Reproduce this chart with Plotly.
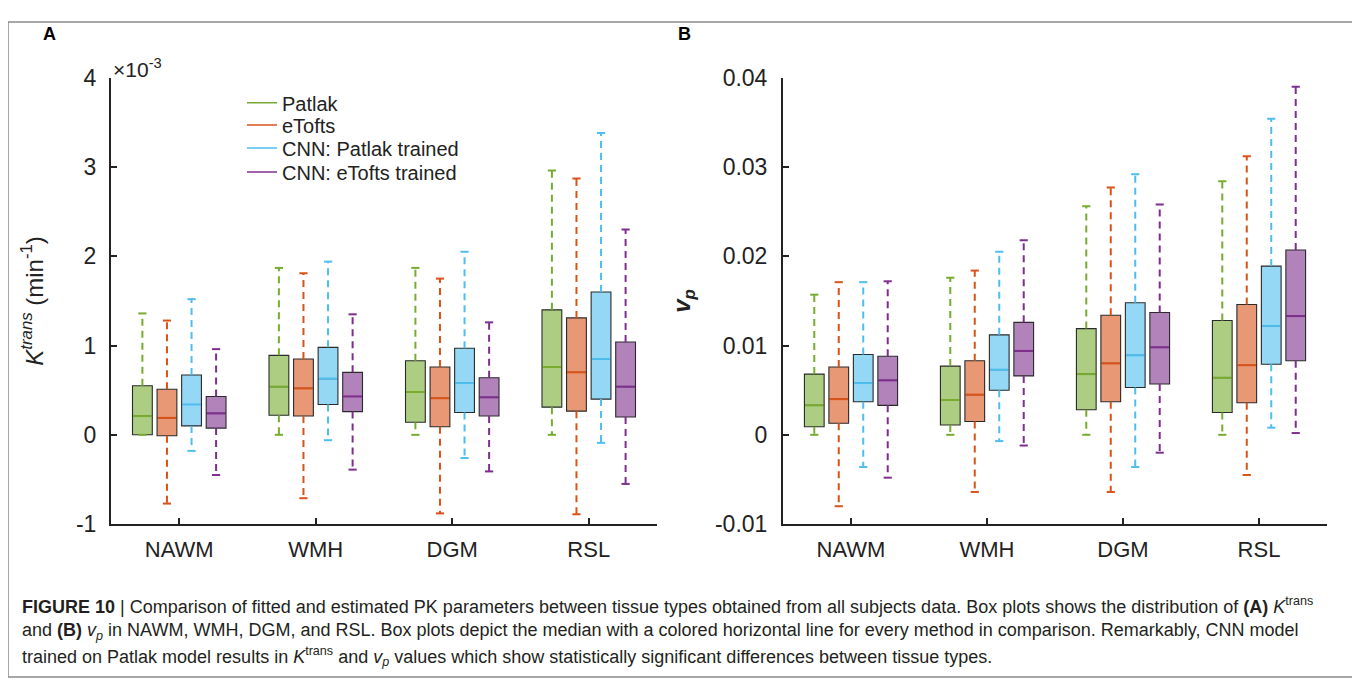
import plotly.graph_objects as go

categories = ["NAWM", "WMH", "DGM", "RSL"]
methods = ["Patlak", "eTofts", "CNN: Patlak trained", "CNN: eTofts trained"]
colors = ["#77AC30", "#D95319", "#4DBEEE", "#7E2F8E"]
fills = ["rgba(119,172,48,0.6)", "rgba(217,83,25,0.6)", "rgba(77,190,238,0.6)", "rgba(126,47,142,0.6)"]

# Panel A: K^trans (x 10^-3 min^-1); rows = methods, columns = categories
ktrans_lower = [[0.0, 0.0, 0.0, 0.0],
                [-0.77, -0.71, -0.88, -0.89],
                [-0.18, -0.06, -0.26, -0.09],
                [-0.45, -0.39, -0.41, -0.55]]
ktrans_q1 = [[0.0, 0.22, 0.14, 0.31],
             [-0.01, 0.21, 0.09, 0.265],
             [0.10, 0.34, 0.25, 0.40],
             [0.075, 0.26, 0.21, 0.20]]
ktrans_median = [[0.21, 0.54, 0.48, 0.76],
                 [0.19, 0.52, 0.41, 0.70],
                 [0.34, 0.63, 0.58, 0.85],
                 [0.24, 0.43, 0.42, 0.54]]
ktrans_q3 = [[0.55, 0.89, 0.83, 1.40],
             [0.51, 0.85, 0.76, 1.31],
             [0.67, 0.98, 0.97, 1.60],
             [0.43, 0.70, 0.64, 1.04]]
ktrans_upper = [[1.36, 1.87, 1.87, 2.96],
                [1.28, 1.81, 1.75, 2.87],
                [1.52, 1.94, 2.05, 3.38],
                [0.96, 1.35, 1.26, 2.30]]

# Panel B: v_p
vp_lower = [[0.0, 0.0, 0.0, 0.0],
            [-0.0080, -0.0064, -0.0064, -0.0045],
            [-0.0036, -0.0007, -0.0036, 0.0008],
            [-0.0048, -0.0012, -0.0020, 0.0002]]
vp_q1 = [[0.0009, 0.0011, 0.0028, 0.0025],
         [0.0013, 0.0015, 0.0037, 0.0036],
         [0.0037, 0.0050, 0.0053, 0.0079],
         [0.0033, 0.0066, 0.0057, 0.0083]]
vp_median = [[0.0033, 0.0039, 0.0068, 0.0064],
             [0.0040, 0.0045, 0.0080, 0.0078],
             [0.0058, 0.0073, 0.0089, 0.0122],
             [0.0061, 0.0094, 0.0098, 0.0133]]
vp_q3 = [[0.0068, 0.0077, 0.0119, 0.0128],
         [0.0076, 0.0083, 0.0134, 0.0146],
         [0.0090, 0.0112, 0.0148, 0.0189],
         [0.0088, 0.0126, 0.0137, 0.0207]]
vp_upper = [[0.0157, 0.0176, 0.0256, 0.0284],
            [0.0171, 0.0184, 0.0277, 0.0312],
            [0.0171, 0.0205, 0.0292, 0.0354],
            [0.0172, 0.0218, 0.0258, 0.0390]]

ktrans_ticks = [-1, 0, 1, 2, 3, 4]
ktrans_ticktext = ["-1", "0", "1", "2", "3", "4"]
vp_ticks = [-0.01, 0, 0.01, 0.02, 0.03, 0.04]
vp_ticktext = ["-0.01", "0", "0.01", "0.02", "0.03", "0.04"]

W, H = 1360, 683
offsets = [-0.27, -0.09, 0.09, 0.27]
box_w = 0.145
cap_half = 0.03
TXT = "#222222"
FONT = "Liberation Sans, Arial, Helvetica, sans-serif"
legend_names = ["legend", "legend2", "legend3", "legend4"]
legend_rows = [85, 108, 132, 157]


def px_x(p):
    return p / W


def px_y(p):
    return 1 - p / H


fig = go.Figure()


def add_panel(lower, q1, med, q3, upper, xa, ya, show_legend):
    pos0 = list(range(1, len(categories) + 1))
    for m in range(len(methods)):
        xs = [p + offsets[m] for p in pos0]
        fig.add_trace(go.Box(
            x=xs, q1=q1[m], median=med[m], q3=q3[m],
            lowerfence=q1[m], upperfence=q3[m],
            width=box_w, fillcolor=fills[m],
            line=dict(color="#2a2a2a", width=1.1), whiskerwidth=0,
            xaxis=xa, yaxis=ya, showlegend=False, name=methods[m],
            hoverinfo="skip"))
        # dashed whiskers
        wx, wy = [], []
        for i, x in enumerate(xs):
            wx += [x, x, None, x, x, None]
            wy += [q3[m][i], upper[m][i], None, q1[m][i], lower[m][i], None]
        fig.add_trace(go.Scatter(x=wx, y=wy, mode="lines", xaxis=xa, yaxis=ya,
                                 line=dict(color=colors[m], width=2, dash="7px,5px"),
                                 showlegend=False, hoverinfo="skip"))
        # caps and medians
        cx, cy, mx, my = [], [], [], []
        for i, x in enumerate(xs):
            cx += [x - cap_half, x + cap_half, None, x - cap_half, x + cap_half, None]
            cy += [upper[m][i], upper[m][i], None, lower[m][i], lower[m][i], None]
            mx += [x - box_w / 2 + 0.004, x + box_w / 2 - 0.004, None]
            my += [med[m][i], med[m][i], None]
        fig.add_trace(go.Scatter(x=cx, y=cy, mode="lines", xaxis=xa, yaxis=ya,
                                 line=dict(color=colors[m], width=2),
                                 showlegend=False, hoverinfo="skip"))
        fig.add_trace(go.Scatter(x=mx, y=my, mode="lines", xaxis=xa, yaxis=ya,
                                 line=dict(color=colors[m], width=2),
                                 showlegend=False, hoverinfo="skip"))
        if show_legend:
            fig.add_trace(go.Scatter(x=[None], y=[None], mode="lines", xaxis=xa, yaxis=ya,
                                     line=dict(color=colors[m], width=1.5),
                                     name=methods[m], showlegend=True,
                                     legend=legend_names[m]))


add_panel(ktrans_lower, ktrans_q1, ktrans_median, ktrans_q3, ktrans_upper, "x", "y", True)
add_panel(vp_lower, vp_q1, vp_median, vp_q3, vp_upper, "x2", "y2", False)

y_dom = [px_y(523), px_y(59)]
common_x = dict(range=[0.5, 4.5], tickvals=[1, 2, 3, 4], ticktext=categories,
                showline=True, linewidth=2, linecolor=TXT, ticks="inside",
                ticklen=6, tickwidth=2, tickcolor=TXT, showgrid=False, zeroline=False,
                tickfont=dict(size=22, color=TXT, family=FONT), ticklabelstandoff=5)
common_y = dict(showline=True, linewidth=2, linecolor=TXT, ticks="inside",
                ticklen=6, tickwidth=2, tickcolor=TXT, showgrid=False, zeroline=False,
                tickfont=dict(size=23, color=TXT, family=FONT))

legend_layout = {}
for name, row in zip(legend_names, legend_rows):
    legend_layout[name] = dict(x=px_x(234), y=px_y(row), xanchor="left", yanchor="middle",
                               font=dict(size=20, color=TXT, family=FONT),
                               bgcolor="rgba(0,0,0,0)", itemwidth=30)

fig.update_layout(
    width=W, height=H, margin=dict(l=0, r=0, t=0, b=0),
    paper_bgcolor="white", plot_bgcolor="white", boxmode="overlay",
    font=dict(family=FONT, color=TXT),
    xaxis=dict(domain=[px_x(103), px_x(649)], anchor="y", **common_x),
    xaxis2=dict(domain=[px_x(775), px_x(1319)], anchor="y2", **common_x),
    yaxis=dict(domain=y_dom, anchor="x", range=[-1, 4], tickvals=ktrans_ticks,
               ticktext=ktrans_ticktext, ticklabelstandoff=8,
               title=dict(text="<i>K</i><sup><i>trans</i></sup> (min<sup>-1</sup>)",
                          font=dict(size=24, color=TXT, family=FONT), standoff=26),
               **common_y),
    yaxis2=dict(domain=y_dom, anchor="x2", range=[-0.01, 0.04], tickvals=vp_ticks,
                ticktext=vp_ticktext, ticklabelstandoff=9,
                title=dict(text="<b><i>v<sub>p</sub></i></b>",
                           font=dict(size=24, color=TXT, family=FONT), standoff=18),
                **common_y),
    showlegend=True,
    **legend_layout,
)

# border around the figure
fig.add_shape(type="rect", xref="paper", yref="paper",
              x0=px_x(0), x1=px_x(1356), y0=px_y(682), y1=px_y(1),
              line=dict(color="#8a8a8a", width=1.5), fillcolor="rgba(0,0,0,0)")

# panel letters
fig.add_annotation(text="<b>A</b>", x=px_x(33), y=px_y(14), xref="paper", yref="paper",
                   xanchor="left", yanchor="middle", showarrow=False,
                   font=dict(size=18, color="black", family=FONT))
fig.add_annotation(text="<b>B</b>", x=px_x(668), y=px_y(14), xref="paper", yref="paper",
                   xanchor="left", yanchor="middle", showarrow=False,
                   font=dict(size=18, color="black", family=FONT))
# exponent label
fig.add_annotation(text="×10<sup>-3</sup>", x=px_x(103), y=px_y(64), xref="paper", yref="paper",
                   xanchor="left", yanchor="bottom", showarrow=False,
                   font=dict(size=21, color=TXT, family=FONT))

# caption
caption_lines = [
    "<b>FIGURE 10</b> | Comparison of fitted and estimated PK parameters between tissue types obtained from all subjects data. Box plots shows the distribution of <b>(A)</b> <i>K</i><sup>trans</sup>",
    "and <b>(B)</b> <i>v<sub>p</sub></i> in NAWM, WMH, DGM, and RSL. Box plots depict the median with a colored horizontal line for every method in comparison. Remarkably, CNN model",
    "trained on Patlak model results in <i>K</i><sup>trans</sup> and <i>v<sub>p</sub></i> values which show statistically significant differences between tissue types.",
]
caption_y = [608, 635, 661]
for line, yy in zip(caption_lines, caption_y):
    fig.add_annotation(text=line, x=px_x(12), y=px_y(yy), xref="paper", yref="paper",
                       xanchor="left", yanchor="middle", showarrow=False, align="left",
                       font=dict(size=18, color="#231f20", family=FONT))

fig.write_html("out.html")
